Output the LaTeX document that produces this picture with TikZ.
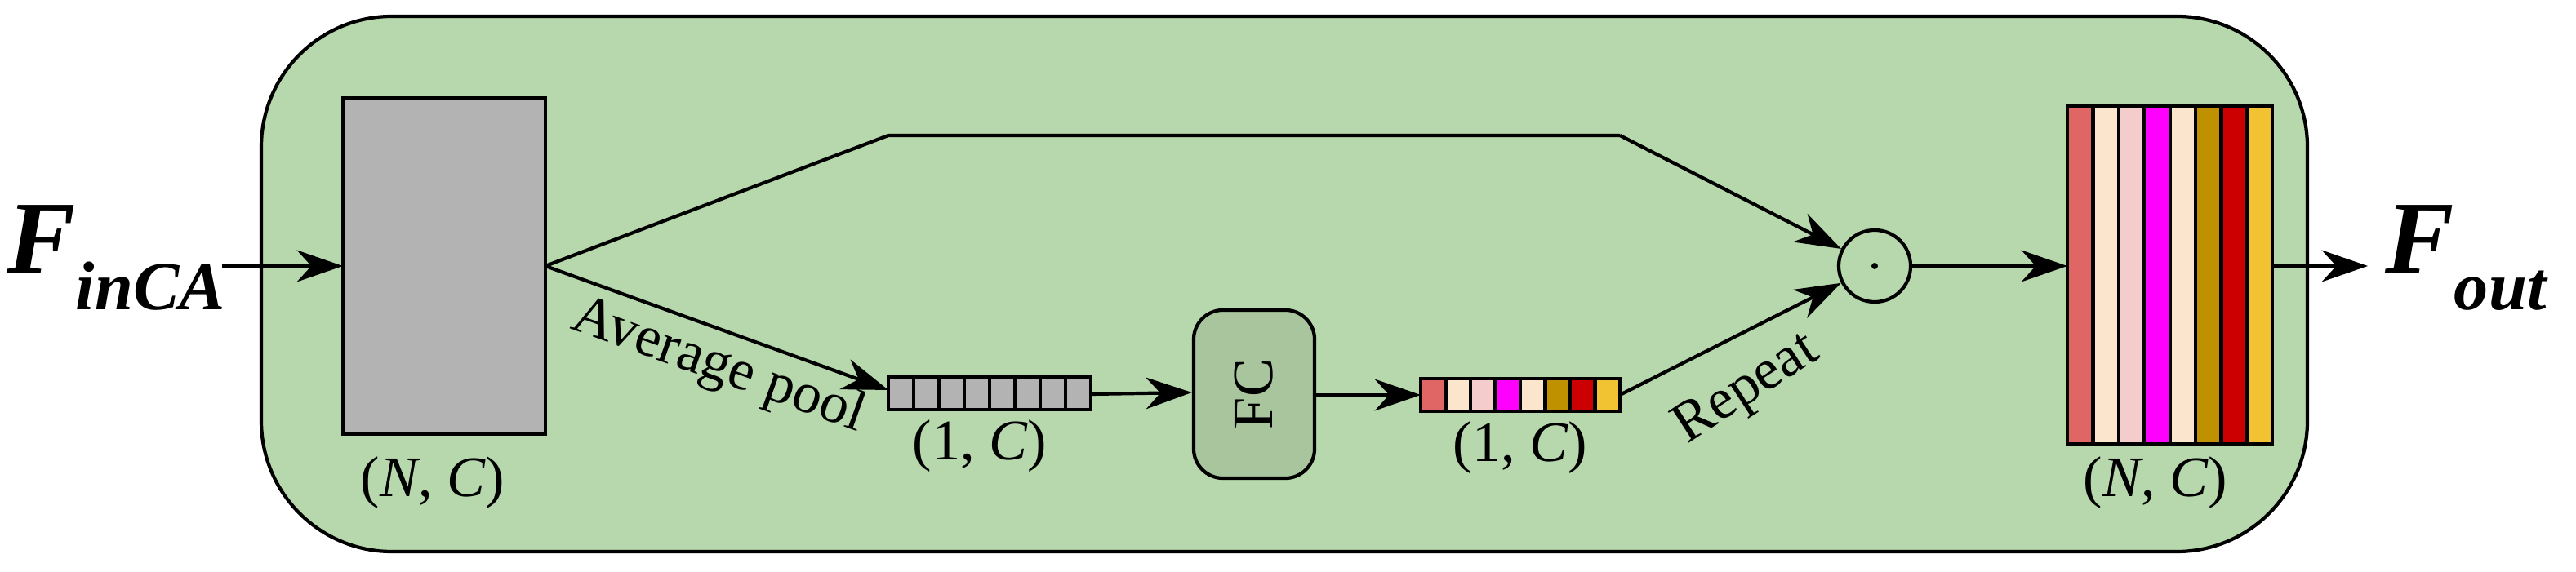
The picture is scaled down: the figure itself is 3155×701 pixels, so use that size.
\documentclass[tikz,border=0pt]{standalone}
\usepackage{fontspec}
\setmainfont{Liberation Serif}
\usetikzlibrary{arrows.meta}
\definecolor{bgG}{HTML}{B7D7AD}
\definecolor{fcG}{HTML}{A8C59E}
\definecolor{grayC}{HTML}{B3B3B3}
\definecolor{c1}{HTML}{E06666}
\definecolor{c2}{HTML}{FCE5CD}
\definecolor{c3}{HTML}{F4CCCC}
\definecolor{c4}{HTML}{FF00FF}
\definecolor{c5}{HTML}{FCE5CD}
\definecolor{c6}{HTML}{BF9000}
\definecolor{c7}{HTML}{CC0000}
\definecolor{c8}{HTML}{F1C232}
\begin{document}
\begin{tikzpicture}[x=0.01cm,y=-0.01cm,
  ln/.style={line width=1.2pt},
  arr/.style={ln,-{Stealth[length=16pt,width=11pt,inset=5pt]}},
  lbl/.style={font=\fontsize{20}{22}\selectfont},
  big/.style={font=\fontsize{36}{40}\selectfont\bfseries\itshape}]
\useasboundingbox (0,0) rectangle (3155,701);
\draw[ln,fill=bgG,rounded corners=1.6cm] (320,20) rectangle (2826,676);
\draw[ln,fill=grayC] (420,120) rectangle (668,532);
\node[lbl] (nc1) at (530,592) {(\textit{N}, \textit{C})};
\node[big,inner sep=0] (fin) at (142,316) {F\raisebox{-0.35em}{\fontsize{24}{26}\selectfont inCA}};
\coordinate (finE) at (272,326);
\draw[arr] (finE) -- (420,326);
% small gray bar
\foreach \i in {0,...,7}{\draw[ln,fill=grayC] ({1088+31*\i},462) rectangle ({1088+31*(\i+1)},502);}
\node[lbl] (nc2) at (1200,547) {(1, \textit{C})};
% colored bar
\foreach \c [count=\i from 0] in {c1,c2,c3,c4,c5,c6,c7,c8}{\draw[ln,fill=\c] ({1740+30.5*\i},464) rectangle ({1740+30.5*(\i+1)},504);}
\node[lbl] (nc3) at (1862,549) {(1, \textit{C})};
% FC
\node[ln,draw,fill=fcG,rounded corners=0.36cm,minimum width=1.48cm,minimum height=2.06cm,inner sep=0] (fc) at (1536,483) {};
\node[lbl,rotate=90] at (fc) {FC};
% circle
\node[ln,draw,circle,minimum size=0.88cm,inner sep=0] (dot) at (2296,326) {};
\fill (dot) circle (4);
% big bar
\foreach \c [count=\i from 0] in {c1,c2,c3,c4,c5,c6,c7,c8}{\draw[ln,fill=\c] ({2532+31.4*\i},130) rectangle ({2532+31.4*(\i+1)},544);}
\node[lbl] (nc4) at (2640,592) {(\textit{N}, \textit{C})};
\node[big,inner sep=0] (fout) at (3020,316) {F\raisebox{-0.35em}{\fontsize{24}{26}\selectfont out}};
% connectors
\coordinate (split) at (668,326);
\draw[ln] (split) -- (1088,166) -- (1984,166);
\draw[arr] (1984,166) -- (dot);
\draw[arr] (split) -- (1088,478);
\node[lbl,rotate=-19.7] at (880,450) {Average pool};
\draw[arr] (1336,483) -- (fc.west|-0,481);
\draw[arr] (fc.east|-0,484) -- (1740,484);
\draw[arr] (1984,484) -- (dot);
\node[lbl,rotate=33] at (2140,478) {Repeat};
\draw[arr] (dot) -- (2532,326);
\draw[arr] (2784,326) -- (2900,326);
\end{tikzpicture}
\end{document}
